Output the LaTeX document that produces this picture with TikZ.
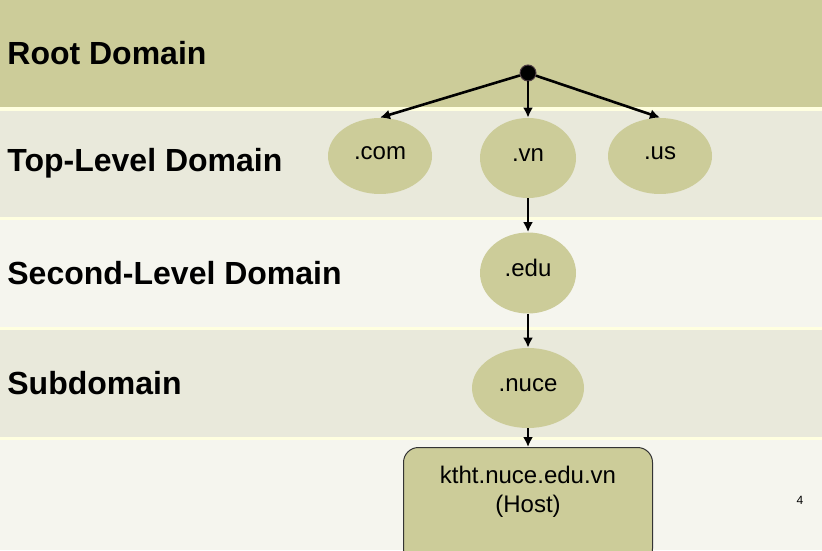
\documentclass[tikz,border=0pt]{standalone}
\usepackage{fontspec}
\setmainfont{Liberation Sans}
\usetikzlibrary{shapes.geometric,positioning,arrows.meta}
\definecolor{bandroot}{HTML}{CCCC99}
\definecolor{banddark}{HTML}{E9E9DB}
\definecolor{bandlight}{HTML}{F5F5EE}
\definecolor{bandgap}{HTML}{FFFFE0}
\definecolor{nodefill}{HTML}{CCCC99}

\begin{document}
\begin{tikzpicture}[x=0.5pt, y=-0.5pt, >={Latex[length=5pt,width=5pt]},
        every ellipse node/.append style={fill=nodefill, inner sep=0pt}]
      \tikzstyle{layerlabel} = [anchor=west, inner sep=0pt, font=\bfseries\fontsize{16}{19}\selectfont]
      \tikzstyle{dnsnode} = [ellipse, font=\fontsize{12}{14.5}\selectfont,
        text height=0.65em, text depth=0.32em]
      \tikzstyle{dnslink} = [->, line width=1.3pt]
      \path[use as bounding box, clip] (0,0) rectangle (822,550);
      % bands
      \fill[bandgap] (0,0) rectangle (822,550);
      \fill[bandroot] (0,0) rectangle (822,107);
      \fill[banddark] (0,111) rectangle (822,217);
      \fill[bandlight] (0,220) rectangle (822,327);
      \fill[banddark] (0,330) rectangle (822,437);
      \fill[bandlight] (0,440) rectangle (822,550);
      \node (RootDomain) [layerlabel] at (7,53) {Root Domain};
      \node (TopLevel) [layerlabel] at (7,163) {Top-Level Domain};
      \node (SecondLevel) [layerlabel] at (7,273) {Second-Level Domain};
      \node (Subdomain) [layerlabel] at (7,383) {Subdomain};
      % tree
      \node (root) [circle, fill=black, draw=black!80!magenta, line width=0.5pt,
        minimum size=8pt, inner sep=0pt] at (528,73) {};
      \node (com) [dnsnode, minimum width=52pt, minimum height=38pt] at (380,156) {.com};
      \node (vn) [dnsnode, minimum width=48pt, minimum height=40pt] at (528,158) {.vn};
      \node (us) [dnsnode, minimum width=52pt, minimum height=38pt] at (660,156) {.us};
      \node (edu) [dnsnode, minimum width=48pt, minimum height=40.5pt] at (528,273) {.edu};
      \node (nuce) [dnsnode, minimum width=56pt, minimum height=40pt] at (528,388) {.nuce};
      \node (host) [rectangle, rounded corners=7.5pt, fill=nodefill, draw=black!80,
        line width=0.5pt, anchor=north, minimum width=124.5pt, minimum height=58pt] at (528,447) {};
      \node (hostname) [below=6pt of host.north, align=center,
        font=\fontsize{12}{14.5}\selectfont] {ktht.nuce.edu.vn\\(Host)};
      \draw[dnslink] (root) -- (com.north);
      \draw[dnslink] (root) -- (vn.north);
      \draw[dnslink] (root) -- (us.north);
      \draw[dnslink] (vn) -- (edu);
      \draw[dnslink] (edu) -- (nuce);
      \draw[dnslink] (nuce) -- (host);
      \node (page) at (800,500) {\fontsize{6}{7}\selectfont 4};
\end{tikzpicture}
\end{document}
